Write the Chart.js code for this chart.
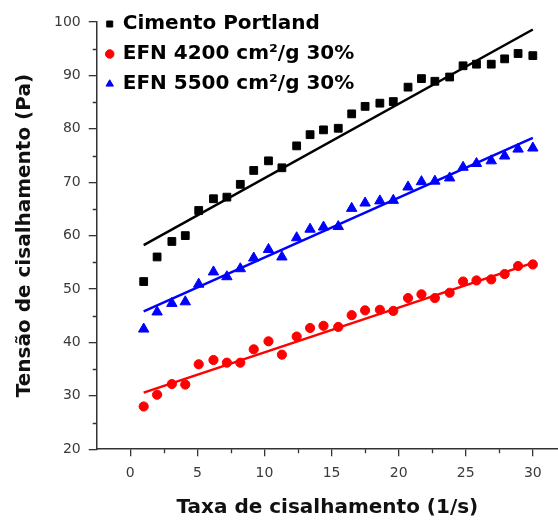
<!DOCTYPE html>
<html>
<head>
<meta charset="utf-8">
<script src="https://cdn.jsdelivr.net/npm/chart.js@4"></script>
<style>
  html, body { margin: 0; padding: 0; background: #fff; overflow: hidden; }
  #wrap { width: 558px; height: 520px; position: relative; }
</style>
</head>
<body>
<div id="wrap"><canvas id="c"></canvas></div>
<script>
// ---- data ----
const seriesNames = ['Cimento Portland', 'EFN 4200 cm²/g 30%', 'EFN 5500 cm²/g 30%'];
const shearRate = [1.0, 2.0, 3.1, 4.1, 5.1, 6.2, 7.2, 8.2, 9.2, 10.3, 11.3, 12.4, 13.4, 14.4, 15.5,
                   16.5, 17.5, 18.6, 19.6, 20.7, 21.7, 22.7, 23.8, 24.8, 25.8, 26.9, 27.9, 28.9, 30.0];
const portland = [51.4, 56.0, 58.9, 60.0, 64.7, 66.9, 67.2, 69.6, 72.2, 74.0, 72.7, 76.8, 78.9, 79.8, 80.1,
                  82.8, 84.2, 84.8, 85.1, 87.8, 89.4, 88.9, 89.7, 91.8, 92.1, 92.1, 93.1, 94.1, 93.7];
const efn4200 = [28.0, 30.2, 32.2, 32.1, 35.9, 36.7, 36.2, 36.2, 38.7, 40.2, 37.7, 41.1, 42.7, 43.1, 42.9,
                 45.1, 46.0, 46.1, 45.9, 48.3, 49.0, 48.3, 49.3, 51.4, 51.6, 51.8, 52.8, 54.3, 54.6];
const efn5500 = [42.5, 45.7, 47.3, 47.6, 50.9, 53.2, 52.3, 53.8, 55.8, 57.4, 56.0, 59.6, 61.2, 61.6, 61.7,
                 65.1, 66.1, 66.5, 66.6, 69.1, 70.1, 70.2, 70.8, 72.8, 73.5, 74.0, 74.9, 76.2, 76.4];
// fitted straight lines (end points)
const fitX = [1.0, 30.0];
const fitPortland = [58.2, 98.6];
const fit4200 = [30.6, 54.9];
const fit5500 = [45.8, 78.3];
// axis ticks
const xTicks = [0, 5, 10, 15, 20, 25, 30];
const xMinorTicks = [2.5, 7.5, 12.5, 17.5, 22.5, 27.5];
const yTicks = [20, 30, 40, 50, 60, 70, 80, 90, 100];
const yMinorTicks = [25, 35, 45, 55, 65, 75, 85, 95];
const xTitle = 'Taxa de cisalhamento (1/s)';
const yTitle = 'Tensão de cisalhamento (Pa)';

const pts = (xs, ys) => xs.map((x, i) => ({ x: x, y: ys[i] }));

const FONT = "'DejaVu Sans', 'Liberation Sans', Arial, sans-serif";
const AXIS = '#333333';

const minorTicks = {
  id: 'minorTicks',
  afterDraw(chart) {
    const ctx = chart.ctx;
    const xs = chart.scales.x, ys = chart.scales.y;
    ctx.save();
    ctx.strokeStyle = AXIS;
    ctx.lineWidth = 1.3;
    ctx.beginPath();
    xMinorTicks.forEach(v => {
      const px = Math.round(xs.getPixelForValue(v)) + 0.5;
      ctx.moveTo(px, ys.bottom);
      ctx.lineTo(px, ys.bottom + 4);
    });
    yMinorTicks.forEach(v => {
      const py = Math.round(ys.getPixelForValue(v)) + 0.5;
      ctx.moveTo(xs.left, py);
      ctx.lineTo(xs.left - 4, py);
    });
    ctx.stroke();
    ctx.restore();
  }
};

const legendShift = {
  id: 'legendShift',
  afterLayout(chart) {
    if (chart.legend) {
      chart.legend.top = chart.chartArea.top - 18;
      chart.legend.bottom = chart.legend.top + 120;
    }
  }
};

new Chart(document.getElementById('c'), {
  type: 'scatter',
  data: {
    datasets: [
      { label: seriesNames[0], data: pts(shearRate, portland), pointStyle: 'rect', pointRadius: 5.5,
        backgroundColor: '#000000', borderColor: '#000000', borderWidth: 1, order: 1 },
      { label: seriesNames[1], data: pts(shearRate, efn4200), pointStyle: 'circle', pointRadius: 4.6,
        backgroundColor: '#ff0000', borderColor: '#ff0000', borderWidth: 1, order: 1 },
      { label: seriesNames[2], data: pts(shearRate, efn5500), pointStyle: 'triangle', pointRadius: 6,
        backgroundColor: '#0000ff', borderColor: '#0000ff', borderWidth: 1, order: 1 },
      { label: 'fit1', type: 'line', data: pts(fitX, fitPortland), borderColor: '#000000',
        borderWidth: 2.5, pointRadius: 0, showLine: true, order: 0 },
      { label: 'fit2', type: 'line', data: pts(fitX, fit4200), borderColor: '#ff0000',
        borderWidth: 2.5, pointRadius: 0, showLine: true, order: 0 },
      { label: 'fit3', type: 'line', data: pts(fitX, fit5500), borderColor: '#0000ff',
        borderWidth: 2.5, pointRadius: 0, showLine: true, order: 0 }
    ]
  },
  options: {
    responsive: true,
    maintainAspectRatio: false,
    animation: false,
    layout: { autoPadding: false, padding: { top: 22, left: 0, right: 0, bottom: 0 } },
    plugins: {
      tooltip: { enabled: false },
      legend: {
        position: 'chartArea',
        align: 'start',
        labels: {
          usePointStyle: true,
          boxWidth: 6,
          boxHeight: 6,
          padding: 10,
          color: '#000000',
          font: { family: FONT, size: 20, weight: 'bold' },
          filter: (item) => item.datasetIndex < 3
        }
      }
    },
    scales: {
      x: {
        type: 'linear',
        min: -2.5,
        max: 31.875,
        afterBuildTicks: (axis) => { axis.ticks = xTicks.map(v => ({ value: v })); },
        afterFit: (axis) => { axis.paddingRight = 0; },
        grid: { drawOnChartArea: false, drawTicks: true, tickLength: 7, color: AXIS, lineWidth: 1.3 },
        border: { display: true, color: AXIS, width: 1.5 },
        ticks: { padding: 9, color: '#3a3a3a', font: { family: FONT, size: 14 }, maxRotation: 0 },
        title: { display: true, text: xTitle, color: '#111111',
                 font: { family: FONT, size: 20, weight: 'bold' }, padding: { top: 5, bottom: 0 } }
      },
      y: {
        type: 'linear',
        min: 20,
        max: 100,
        afterBuildTicks: (axis) => { axis.ticks = yTicks.map(v => ({ value: v })); },
        grid: { drawOnChartArea: false, drawTicks: true, tickLength: 8, color: AXIS, lineWidth: 1.3 },
        border: { display: true, color: AXIS, width: 1.5 },
        ticks: { padding: 8, color: '#3a3a3a', font: { family: FONT, size: 14 } },
        title: { display: true, text: yTitle, color: '#111111',
                 font: { family: FONT, size: 20, weight: 'bold' }, padding: { top: 13, bottom: 9 } }
      }
    }
  },
  plugins: [minorTicks, legendShift]
});
</script>
</body>
</html>
